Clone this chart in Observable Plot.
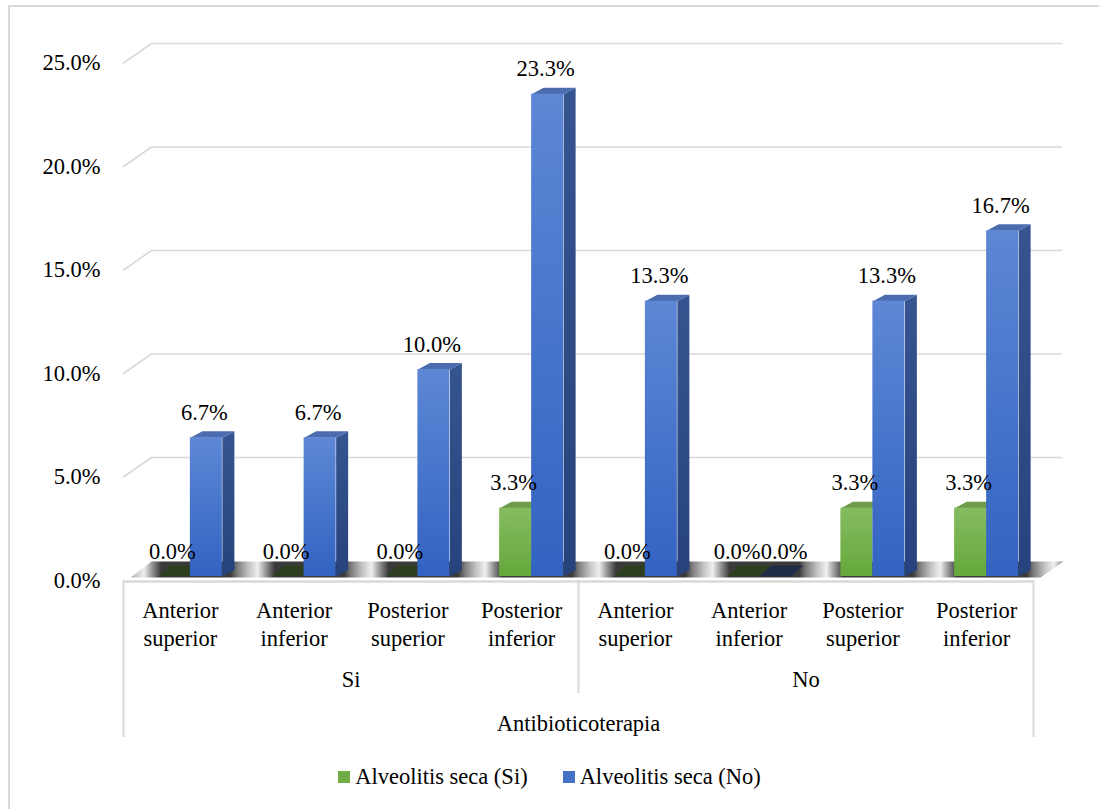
<!DOCTYPE html>
<html><head><meta charset="utf-8">
<script src="https://cdn.jsdelivr.net/npm/d3@7"></script>
<script src="https://cdn.jsdelivr.net/npm/@observablehq/plot@0.6"></script>
<style>
body{margin:0;background:#fff;}
#wrap{position:relative;width:1099px;height:809px;overflow:hidden;font-family:"Liberation Serif","Times New Roman",serif;}
#frame{position:absolute;left:8px;top:5px;width:1300px;height:1000px;border-left:2px solid #d9d9d9;border-top:2px solid #d9d9d9;}
#chart{position:absolute;left:0;top:0;}
#legend{position:absolute;left:0;top:762px;width:1099px;height:30px;display:flex;justify-content:center;align-items:center;font-size:22.5px;color:#000;}
#legend .item{display:flex;align-items:center;}
#legend .sw{width:12px;height:12px;margin-right:5px;}
</style></head><body>
<svg width="0" height="0" style="position:absolute">
<defs>
  <linearGradient id="blueFront" x1="0" y1="0" x2="0" y2="1">
    <stop offset="0" stop-color="#5e87d5"/><stop offset="0.45" stop-color="#4877cc"/><stop offset="1" stop-color="#3363c2"/>
  </linearGradient>
  <linearGradient id="blueSide" x1="0" y1="0" x2="0" y2="1">
    <stop offset="0" stop-color="#36548f"/><stop offset="1" stop-color="#26437d"/>
  </linearGradient>
  <linearGradient id="greenFront" x1="0" y1="0" x2="0" y2="1">
    <stop offset="0" stop-color="#86bc61"/><stop offset="1" stop-color="#65a83b"/>
  </linearGradient>
  <linearGradient id="greenSide" x1="0" y1="0" x2="0" y2="1">
    <stop offset="0" stop-color="#55823a"/><stop offset="1" stop-color="#45722a"/>
  </linearGradient>
  <linearGradient id="floorGrad" gradientUnits="userSpaceOnUse" x1="123" y1="0" x2="236.75" y2="0" spreadMethod="repeat">
    <stop offset="0" stop-color="#7c7c7c"/><stop offset="0.1" stop-color="#c4c4c4"/>
    <stop offset="0.18" stop-color="#efefef"/><stop offset="0.26" stop-color="#8a8a8a"/>
    <stop offset="0.33" stop-color="#3a3a3a"/><stop offset="0.94" stop-color="#3a3a3a"/>
    <stop offset="1" stop-color="#7c7c7c"/>
  </linearGradient>
</defs></svg>
<div id="wrap"><div id="frame"></div><div id="chart"></div><div id="legend"></div></div>
<script>
// ---- data ----
const categories = ["Anterior\nsuperior", "Anterior\ninferior", "Posterior\nsuperior", "Posterior\ninferior",
                    "Anterior\nsuperior", "Anterior\ninferior", "Posterior\nsuperior", "Posterior\ninferior"];
const groups = ["Si", "No"];
const axisTitle = "Antibioticoterapia";
const seriesNames = ["Alveolitis seca (Si)", "Alveolitis seca (No)"];
const valuesSi = [0.0, 0.0, 0.0, 3.3, 0.0, 0.0, 3.3, 3.3];
const valuesNo = [6.7, 6.7, 10.0, 23.3, 13.3, 0.0, 13.3, 16.7];
const yTicks = [0, 5, 10, 15, 20, 25];

// ---- geometry ----
const W = 1099, H = 750;
const mL = 123, mR = 66, mT = 62.5, mB = 170;
const nCat = categories.length;
const pxX = (W - mL - mR) / nCat;
const pxY = (H - mT - mB) / 25;
const ux = px => px / pxX, uy = px => px / pxY;
const wallDx = ux(28), wallDy = uy(19.5);
const bw = ux(32), ddx = ux(12), ddy = uy(6.5), ddyZero = uy(11);
const b0 = uy(4);
const floorFront = uy(3), floorBack = uy(19);

const style = {
  front: ["url(#greenFront)", "url(#blueFront)"],
  side: ["url(#greenSide)", "url(#blueSide)"],
  top: ["#6d9c4b", "#4b6daf"],
  zero: ["#2d3f1f", "#1f2c48"],
  legend: ["#70ad47", "#4472c4"]
};

const bars = [];
categories.forEach((c, i) => {
  [valuesSi, valuesNo].forEach((vals, k) => {
    const v = vals[i];
    const cc = i + 0.5 + ux(10);
    const x0 = k === 0 ? cc - bw : cc;
    // labels of a pair at the same height are pushed apart so they do not collide
    const clash = Math.abs(valuesSi[i] - valuesNo[i]) < 1;
    const ldx = clash ? (k === 0 ? -6 : 9) : -2;
    bars.push({i, k, v, x0, x1: x0 + bw, base: b0, top: b0 + v, ldx});
  });
});

// polygons
const sideRows = [], topRows = [], gridRows = [], floorRows = [];
bars.forEach((b, j) => {
  if (b.v > 0) {
    [[b.x1, b.base], [b.x1 + ddx, b.base + ddy], [b.x1 + ddx, b.top + ddy], [b.x1, b.top]]
      .forEach(([x, y]) => sideRows.push({id: j, x, y, fill: style.side[b.k]}));
    [[b.x0, b.top], [b.x1, b.top], [b.x1 + ddx, b.top + ddy], [b.x0 + ddx, b.top + ddy]]
      .forEach(([x, y]) => topRows.push({id: j, x, y, fill: style.top[b.k]}));
  } else {
    [[b.x0, b.top], [b.x1, b.top], [b.x1 + ddx, b.top + ddyZero], [b.x0 + ddx, b.top + ddyZero]]
      .forEach(([x, y]) => topRows.push({id: j, x, y, fill: style.zero[b.k]}));
  }
});
yTicks.filter(t => t > 0).forEach(t => {
  [[0, t], [wallDx, t + wallDy], [nCat + wallDx, t + wallDy]].forEach(([x, y]) => gridRows.push({id: t, x, y}));
});
[[ux(7), floorFront], [nCat + ux(7), floorFront], [nCat + wallDx + ux(2), floorBack], [wallDx, floorBack]]
  .forEach(([x, y]) => floorRows.push({id: 0, x, y, fill: "url(#floorGrad)"}));

const grid = "#d9d9d9";
const fs = 22.5;

const chart = Plot.plot({
  width: W, height: H,
  marginLeft: mL, marginRight: mR, marginTop: mT, marginBottom: mB,
  x: {domain: [0, nCat], axis: null},
  y: {domain: [0, 25]},
  color: {type: "identity"},
  style: {fontFamily: '"Liberation Serif","Times New Roman",serif', fontSize: fs + "px", color: "#000", background: "transparent", overflow: "visible"},
  marks: [
    Plot.line(gridRows, {x: "x", y: "y", z: "id", stroke: grid, strokeWidth: 1.6}),
    Plot.line(floorRows, {x: "x", y: "y", z: "id", fill: "fill", stroke: "none", curve: "linear-closed"}),
    Plot.line(sideRows, {x: "x", y: "y", z: "id", fill: "fill", stroke: "none", curve: "linear-closed"}),
    Plot.line(topRows, {x: "x", y: "y", z: "id", fill: "fill", stroke: "none", curve: "linear-closed"}),
    Plot.rect(bars.filter(b => b.v > 0), {x1: "x0", x2: "x1", y1: "base", y2: "top", fill: d => style.front[d.k]}),
    Plot.text(bars, {x: d => d.x0 + bw / 2 + ux(d.ldx), y: "top", text: d => d.v.toFixed(1) + "%", dy: -18,
      lineAnchor: "bottom", fontSize: fs, fill: "#000"}),
    Plot.ruleY([0], {x1: 0, x2: nCat, stroke: grid, strokeWidth: 2.5, dy: 1}),
    Plot.ruleX([0, nCat], {y1: 0, y2: -uy(157), stroke: grid, strokeWidth: 2}),
    Plot.ruleX([nCat / 2], {y1: 0, y2: -uy(113), stroke: grid, strokeWidth: 2}),
    Plot.text(categories, {x: (d, i) => i + 0.5, y: 0, text: d => d, dy: 65, lineAnchor: "bottom",
      lineHeight: 1.244, fontSize: fs, fill: "#000"}),
    Plot.text(groups, {x: (d, i) => nCat / 4 + i * nCat / 2, y: 0, text: d => d, dy: 106.5, lineAnchor: "bottom",
      fontSize: fs, fill: "#000"}),
    Plot.text([axisTitle], {x: nCat / 2, y: 0, text: d => d, dy: 150.5, lineAnchor: "bottom", fontSize: fs, fill: "#000"}),
    Plot.axisY(yTicks, {tickSize: 0, tickPadding: 23, tickFormat: d => d.toFixed(1) + "%", fontSize: fs, label: null})
  ]
});
document.getElementById("chart").appendChild(chart);

const legend = document.getElementById("legend");
seriesNames.forEach((s, k) => {
  const item = document.createElement("div");
  item.className = "item";
  if (k > 0) item.style.marginLeft = "35px";
  const sw = document.createElement("div");
  sw.className = "sw";
  sw.style.background = style.legend[k];
  const t = document.createElement("span");
  t.textContent = s;
  item.appendChild(sw); item.appendChild(t);
  legend.appendChild(item);
});
</script>
</body></html>
